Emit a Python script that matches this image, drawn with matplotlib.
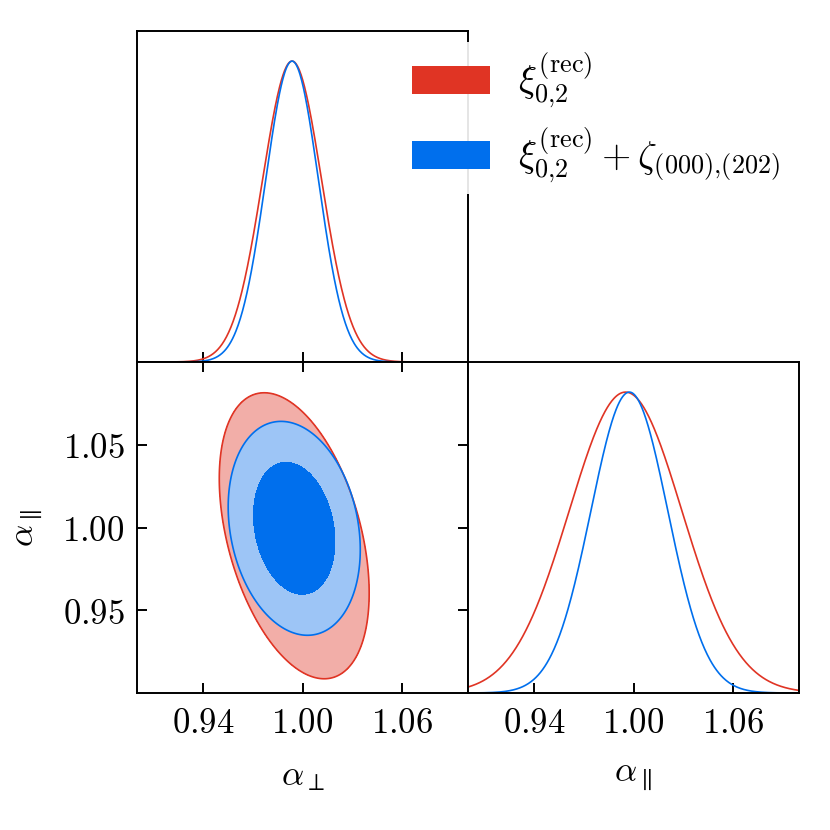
import numpy as np
import matplotlib
matplotlib.use("Agg")
import matplotlib.pyplot as plt
from matplotlib.patches import Patch

plt.rcParams['mathtext.fontset'] = 'cm'
plt.rcParams['font.family'] = 'DejaVu Serif'

# ---------------- data ----------------
series_labels = [r'$\xi_{0{,}2}^{(\mathrm{rec})}$',
                 r'$\xi_{0{,}2}^{(\mathrm{rec})} + \zeta_{(000){,}(202)}$']
line_colors = ['#E03424', '#006FED']
fill_light = ['#F2AEA8', '#9DC5F6']
fill_dark = ['#E87F75', '#006FED']

# 2D posterior summary (alpha_perp, alpha_par)
mean_perp_2d = [0.995, 0.995]
mean_par_2d = [0.995, 0.9995]
sigma_perp_2d = [0.0185, 0.0163]
sigma_par_2d = [0.0353, 0.0264]
rho_2d = [-0.40, -0.20]

# 1D marginals
mean_perp_1d = [0.9937, 0.9937]
sigma_perp_1d = [0.0178, 0.0159]
mean_par_1d = [0.9952, 0.9975]
sigma_par_1d = [0.0340, 0.0232]

contour_probs = [0.68, 0.95]

perp_ticks = [0.94, 1.00, 1.06]
par_ticks = [0.95, 1.00, 1.05]
perp_lim = (0.90, 1.10)
par_lim = (0.90, 1.10)

FS = 25
LFS = 27

fig = plt.figure(figsize=(8.3, 8.3), dpi=100)
W = 331 / 830
x0 = 137 / 830
y0 = 137 / 830
ax_tl = fig.add_axes([x0, y0 + W, W, W])
ax_bl = fig.add_axes([x0, y0, W, W])
ax_br = fig.add_axes([x0 + W, y0, W, W])

for ax in (ax_tl, ax_bl, ax_br):
    for s in ax.spines.values():
        s.set_linewidth(1.4)
    ax.tick_params(direction='in', length=7, width=1.4, labelsize=FS, pad=9)

def fmt(vals):
    return [r'$%.2f$' % v for v in vals]

# ---- top-left: 1D alpha_perp ----
xg = np.linspace(perp_lim[0], perp_lim[1], 600)
for i in range(2):
    p = np.exp(-0.5 * ((xg - mean_perp_1d[i]) / sigma_perp_1d[i]) ** 2)
    ax_tl.plot(xg, p, color=line_colors[i], lw=1.2)
ax_tl.set_xlim(*perp_lim)
ax_tl.set_ylim(0, 1.1)
ax_tl.set_yticks([])
ax_tl.set_xticks(perp_ticks)
ax_tl.set_xticklabels([])
ax_tl.tick_params(axis='x', bottom=True, top=False)

# ---- bottom-right: 1D alpha_par ----
yg = np.linspace(par_lim[0], par_lim[1], 600)
for i in range(2):
    p = np.exp(-0.5 * ((yg - mean_par_1d[i]) / sigma_par_1d[i]) ** 2)
    ax_br.plot(yg, p, color=line_colors[i], lw=1.2)
ax_br.set_xlim(*par_lim)
ax_br.set_ylim(0, 1.1)
ax_br.set_yticks([])
ax_br.set_xticks(perp_ticks)
ax_br.set_xticklabels(fmt(perp_ticks))
ax_br.set_xlabel(r'$\alpha_\parallel$', fontsize=FS, labelpad=14)

# ---- bottom-left: 2D contours ----
X, Y = np.meshgrid(np.linspace(*perp_lim, 500), np.linspace(*par_lim, 500))
for i in range(2):
    dx = (X - mean_perp_2d[i]) / sigma_perp_2d[i]
    dy = (Y - mean_par_2d[i]) / sigma_par_2d[i]
    r = rho_2d[i]
    chi2 = (dx ** 2 - 2 * r * dx * dy + dy ** 2) / (1 - r ** 2)
    dens = np.exp(-0.5 * chi2)
    lv = sorted([np.exp(-0.5 * (-2 * np.log(1 - p))) for p in contour_probs])
    ax_bl.contourf(X, Y, dens, levels=[lv[0], lv[1], 2], colors=[fill_light[i], fill_dark[i]])
    ax_bl.contour(X, Y, dens, levels=[lv[0]], colors=[line_colors[i]], linewidths=1.2)
ax_bl.set_xlim(*perp_lim)
ax_bl.set_ylim(*par_lim)
ax_bl.set_xticks(perp_ticks)
ax_bl.set_xticklabels(fmt(perp_ticks))
ax_bl.set_yticks(par_ticks)
ax_bl.set_yticklabels(fmt(par_ticks))
ax_bl.tick_params(top=True, right=True)
ax_bl.set_xlabel(r'$\alpha_\perp$', fontsize=FS, labelpad=14)
ax_bl.set_ylabel(r'$\alpha_\parallel$', fontsize=FS, labelpad=12)

handles = [Patch(facecolor=c, edgecolor='none') for c in line_colors]
leg = fig.legend(handles, series_labels, loc='upper left',
                 bbox_to_anchor=(403 / 830, 1 - 42 / 830), fontsize=LFS,
                 frameon=True, fancybox=False, framealpha=0.9, edgecolor='none',
                 handlelength=2.08, handleheight=0.78, handletextpad=0.75,
                 labelspacing=0.42, borderpad=0.24, borderaxespad=0)
leg.get_frame().set_linewidth(0)

fig.savefig('out.png', dpi=100)
